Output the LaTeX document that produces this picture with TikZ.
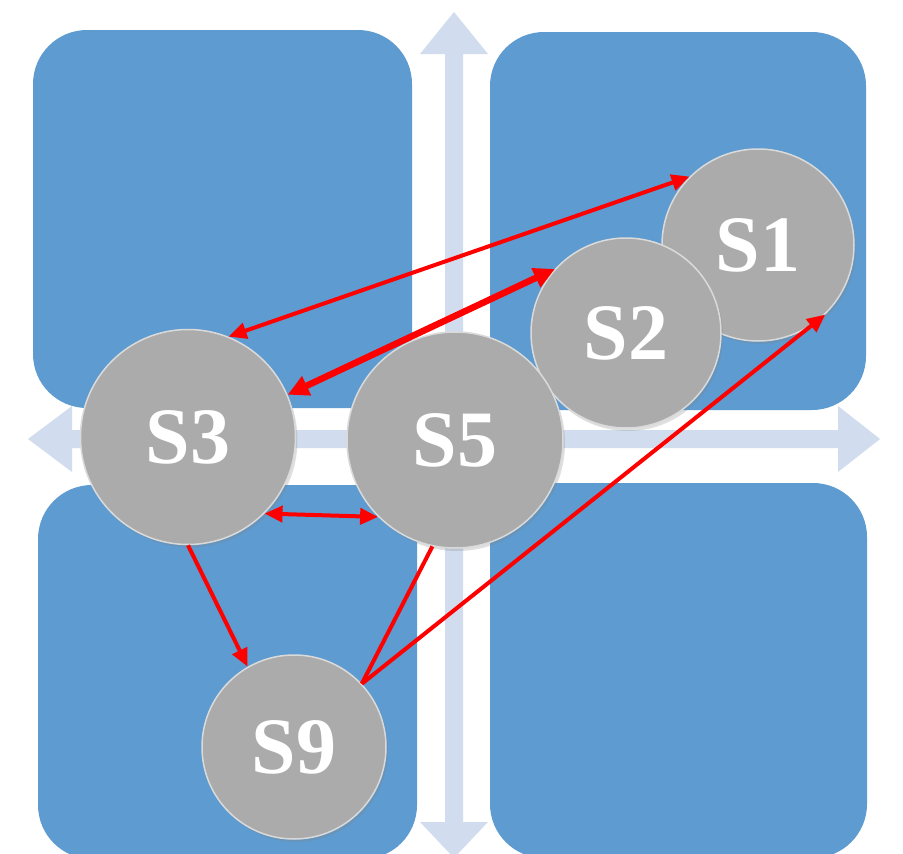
\documentclass[tikz,border=0pt]{standalone}
\usepackage{fontspec}
\setmainfont{Liberation Serif}
\usetikzlibrary{arrows.meta,shadows}
\definecolor{tilefill}{HTML}{5E9BD0}
\definecolor{axisfill}{HTML}{D1DDEE}
\definecolor{discfill}{HTML}{ABABAB}
\definecolor{discrim}{HTML}{DADADA}
\definecolor{linkred}{HTML}{FF0000}
\begin{document}
\begin{tikzpicture}[x=1pt,y=-1pt,
  tile/.style={fill=tilefill, rounded corners=54pt},
  axis/.style={fill=axisfill},
  disc/.style={circle, fill=discfill, draw=discrim, line width=1.5pt,
    inner sep=0pt, text=white,
    font=\fontsize{80}{80}\selectfont\bfseries,
    drop shadow={opacity=0.25, shadow xshift=2pt, shadow yshift=-3pt}},
  link/.style={draw=linkred, line width=4pt},
  boldlink/.style={draw=linkred, line width=6.5pt},
  tip/.tip={Triangle[length=18pt,width=16pt]},
  bigtip/.tip={Triangle[length=21pt,width=20pt]}]

  % canvas
  \fill[white] (0,0) rectangle (903,854);
  \useasboundingbox (0,0) rectangle (903,854);

  % four quadrant tiles
  \fill[tile] (33,30) rectangle (412,408);
  \fill[tile] (490,32) rectangle (866,410);
  \fill[tile] (38,485) rectangle (417,859);
  \fill[tile] (490,483) rectangle (867,858);

  % cross of axes
  \fill[axis] (454,12) -- (488,54) -- (463,54) -- (463,822) -- (488,822)
    -- (454,858) -- (420,822) -- (445,822) -- (445,54) -- (420,54) -- cycle;
  \fill[axis] (28,439) -- (72,406) -- (72,430) -- (838,430) -- (838,406)
    -- (880,439) -- (838,472) -- (838,448) -- (72,448) -- (72,472) -- cycle;

  % discs
  \node[disc, minimum size=192pt] (s1) at (758,245) {S1};
  \node[disc, minimum size=190pt] (s2) at (626,333) {S2};
  \node[disc, minimum size=215pt] (s3) at (188,437) {S3};
  \node[disc, minimum size=216pt] (s5) at (455,440) {S5};
  \node[disc, minimum size=184pt] (s9) at (294,747) {S9};

  % links
  \draw[link, tip-tip] (s3.68) -- (s1.135);
  \draw[boldlink, bigtip-bigtip] (s3.23) -- (s2.138);
  \draw[link, tip-tip] (s3.-45) -- (s5.-135);
  \draw[link, -tip] (s3.-90) -- (s9.120);
  \draw[link] (s5.-102) -- (s9.43);
  \draw[link, -tip] (s9.43) -- (s1.-46);
\end{tikzpicture}
\end{document}
